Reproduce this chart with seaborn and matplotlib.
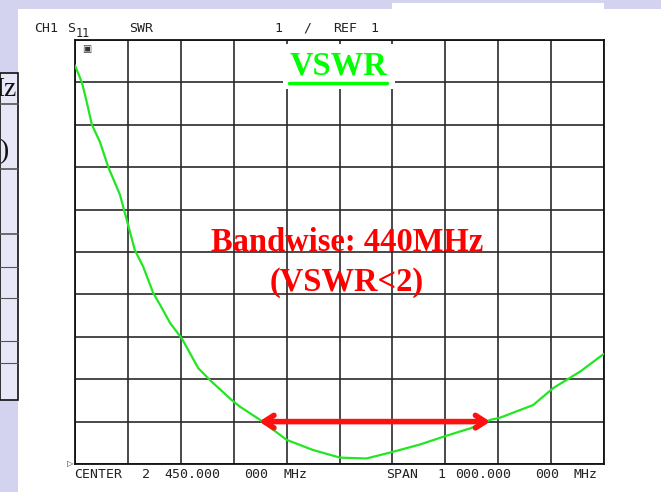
import matplotlib
matplotlib.use("Agg")
import matplotlib.pyplot as plt
import seaborn as sns
import numpy as np
import pandas as pd
from matplotlib.patches import Rectangle

# ---- data ----
freq_mhz = [1950, 1963, 1971, 1982, 1997, 2013, 2035, 2048, 2063, 2079, 2098, 2111,
            2130, 2152, 2183, 2205, 2246, 2262, 2300, 2350, 2400, 2451, 2501, 2552,
            2602, 2653, 2697, 2735, 2753, 2816, 2854, 2905, 2950]
vswr = [10.4, 10.0, 9.6, 9.0, 8.6, 8.0, 7.35, 6.75, 6.05, 5.65, 5.03, 4.75,
        4.32, 3.96, 3.26, 2.98, 2.51, 2.35, 2.04, 1.57, 1.33, 1.15, 1.13, 1.29,
        1.46, 1.67, 1.84, 2.04, 2.09, 2.39, 2.79, 3.18, 3.6]
band_edges = [2298, 2735]
band_level = 2
x_range = [1950, 2950]
y_range = [1, 11]

W, H = 661, 492
sns.set_style("white")
plt.rcParams['font.family'] = ['DejaVu Sans']

fig = plt.figure(figsize=(W / 100, H / 100), dpi=100, facecolor="#d3d3ef")

def fx(x):
    return x / W

def fy(y):
    return 1 - y / H

# white screenshot area
fig.patches.append(Rectangle((fx(18), 0), 1 - fx(18), fy(9), transform=fig.transFigure,
                             facecolor="white", edgecolor="none", zorder=-5))
fig.patches.append(Rectangle((fx(392), fy(20)), fx(604) - fx(392), fy(3) - fy(20),
                             transform=fig.transFigure, facecolor="white", edgecolor="none", zorder=-5))
# left table fragment
fig.patches.append(Rectangle((0, fy(400)), fx(18), fy(73) - fy(400), transform=fig.transFigure,
                             facecolor="#e7e7f7", edgecolor="#111111", lw=1.2, zorder=-4))
for yy, lw in [(104, 1.2), (169, 1.2), (234, 1.2), (267, 0.8), (298, 0.8), (341, 0.8), (363, 0.8)]:
    fig.add_artist(plt.Line2D([0, fx(18)], [fy(yy), fy(yy)], transform=fig.transFigure,
                              color="#555555", lw=lw))
fig.text(fx(16), fy(90), "Hz", ha="right", va="center", fontsize=20,
         family=["Liberation Serif"], color="#111111")
fig.text(fx(8), fy(152), ")", ha="right", va="center", fontsize=20,
         family=["Liberation Serif"], color="#111111")

ax = fig.add_axes([fx(75), fy(464), fx(604) - fx(75), fy(40) - fy(464)])
ax.set_facecolor("white")
df = pd.DataFrame({"freq": freq_mhz, "vswr": vswr})
sns.lineplot(data=df, x="freq", y="vswr", ax=ax, color="#22e622", lw=1.6, zorder=3)

ax.set_xlim(*x_range)
ax.set_ylim(*y_range)
ax.set_xticks(np.arange(x_range[0], x_range[1] + 1, 100))
ax.set_yticks(np.arange(y_range[0], y_range[1] + 1, 1))
ax.grid(True, color="#2a2a2a", lw=1.2)
ax.tick_params(length=0, labelbottom=False, labelleft=False)
ax.set_xlabel("")
ax.set_ylabel("")
for s in ax.spines.values():
    s.set_color("#111111")
    s.set_linewidth(1.3)

# bandwidth arrow
ax.annotate("", xy=(band_edges[0], band_level), xytext=(band_edges[1], band_level),
            arrowprops=dict(arrowstyle="<->,head_length=0.7,head_width=0.45",
                            color="#ff1010", lw=4, capstyle="round", joinstyle="round",
                            shrinkA=0, shrinkB=0), zorder=4)

# white box behind VSWR title
fig.patches.append(Rectangle((fx(283), fy(89)), fx(395) - fx(283), fy(44) - fy(89),
                             transform=fig.transFigure, facecolor="white", edgecolor="none", zorder=5))
fig.text(fx(338), fy(66), "VSWR", ha="center", va="center", fontsize=23.5, fontweight="bold",
         family=["Liberation Serif"], color="#00ff00", zorder=6)
fig.add_artist(plt.Line2D([fx(289), fx(387)], [fy(83), fy(83)], transform=fig.transFigure,
                          color="#00ff00", lw=2.5, zorder=6))

fig.text(fx(347), fy(242), "Bandwise: 440MHz", ha="center", va="center", fontsize=23.5,
         fontweight="bold", family=["Liberation Serif"], color="#ff0000", zorder=6)
fig.text(fx(347), fy(282), "(VSWR<2)", ha="center", va="center", fontsize=23.5,
         fontweight="bold", family=["Liberation Serif"], color="#ff0000", zorder=6)

# instrument annotations
mono = dict(family=["DejaVu Sans Mono"], fontsize=9.5, color="#222222", va="center")
for x, s in [(34, "CH1"), (67, "S"), (129, "SWR"), (274, "1"), (303, "/"), (333, "REF"), (370, "1")]:
    fig.text(fx(x), fy(28), s, **mono)
fig.text(fx(76), fy(33), "11", family=["DejaVu Sans Mono"], fontsize=8.5, color="#222222", va="center")
for x, s in [(74, "CENTER"), (142, "2"), (164, "450.000"), (244, "000"), (283, "MHz"),
             (386, "SPAN"), (437, "1"), (455, "000.000"), (535, "000"), (574, "MHz")]:
    fig.text(fx(x), fy(475), s, **mono)
fig.text(fx(82), fy(49), "▣", family=["DejaVu Sans"], fontsize=7, color="#333333", va="center")
fig.text(fx(67), fy(464), "▷", family=["DejaVu Sans"], fontsize=6, color="#333333", va="center")

fig.savefig("out.png", dpi=100, facecolor=fig.get_facecolor())
